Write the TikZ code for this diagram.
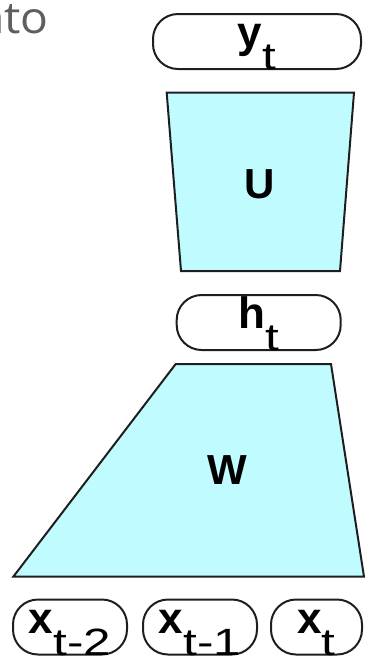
\documentclass[tikz,border=0pt]{standalone}
\usepackage{fontspec}
\setmainfont{Liberation Sans}
\newfontfamily\headfont{Open Sans}
\definecolor{layerfill}{RGB}{192,252,255}
\definecolor{edgecol}{RGB}{30,30,30}
\definecolor{headgray}{RGB}{95,95,95}
\newcommand\lbl[2]{{\fontsize{44}{46}\selectfont\bfseries #1}{\fontsize{38}{40}\selectfont\raisebox{-22pt}{\scalebox{1.3}[1]{#2}}}}
\tikzset{
  pill/.style={draw=edgecol, line width=2pt, rounded corners=25pt, minimum height=55pt,
    inner sep=0pt, text height=31pt, text depth=19pt, align=center},
  layer/.style={draw=edgecol, line width=2pt, fill=layerfill, line join=miter},
  wlabel/.style={font=\fontsize{42}{44}\selectfont\bfseries, inner sep=0pt}
}
\begin{document}
\begin{tikzpicture}[x=1pt,y=-1pt]
\useasboundingbox (0,0) rectangle (366,657);
% cut-off heading text
\node[anchor=base east, inner sep=0pt, text=headgray, font=\headfont\fontsize{44}{48}\selectfont] (head) at (49,33) {\scalebox{1.05}[1]{into}};
% U layer
\draw[layer] (166.7,92.7) -- (354,92.7) -- (340,271) -- (181,271) -- cycle;
\node[wlabel] (U) at (260,184) {U};
% W layer
\draw[layer] (175.7,364) -- (331,364) -- (364,576.7) -- (13.3,576.7) -- cycle;
\node[wlabel] (W) at (227,470) {W};
% pills
\node[pill, minimum width=208pt] (yt) at (257,41.5) {\lbl{y}{t}};
\node[pill, minimum width=164pt] (ht) at (258.7,322.5) {\lbl{h}{t}};
\node[pill, minimum width=114pt] (x2) at (70,627) {\lbl{x}{t-2}};
\node[pill, minimum width=114pt] (x1) at (200,627) {\lbl{x}{t-1}};
\node[pill, minimum width=91pt] (x0) at (316.5,627) {\lbl{x}{t}};
\end{tikzpicture}
\end{document}
